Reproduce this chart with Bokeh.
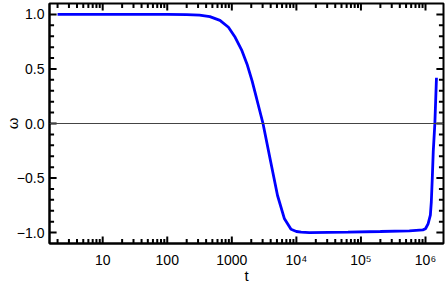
import math
from bokeh.plotting import figure
from bokeh.models import Span, FixedTicker, Range1d
from bokeh.embed import file_html
from bokeh.resources import INLINE

# data
t_vals = [2, 10, 100, 200, 316, 457, 655, 887, 1127, 1435, 1722, 2061, 2410,
          3041, 4000, 5105, 6501, 8260, 10000, 11860, 15850, 63100, 200000,
          562000, 912000, 1000000, 1096000, 1189000, 1230000, 1274000,
          1318000, 1396000, 1479000]
w_vals = [1.0, 1.0, 1.0, 0.998, 0.993, 0.98, 0.945, 0.882, 0.79, 0.667, 0.544,
          0.39, 0.234, 0.0, -0.35, -0.66, -0.87, -0.97, -0.99, -0.995, -1.0,
          -0.995, -0.99, -0.985, -0.975, -0.965, -0.92, -0.84, -0.72, -0.5,
          -0.26, 0.0, 0.42]
x_major = [10, 100, 1000, 10000, 100000, 1000000]
x_tick_labels = ["10", "100", "1000", "10\u2074", "10\u2075", "10\u2076"]
y_ticks = [-1.0, -0.5, 0.0, 0.5, 1.0]
y_tick_labels = ["\u22121.0", "\u22120.5", "0.0", "0.5", "1.0"]
x_label = "t"
y_label = "\u03c9"

x_lo, x_hi = 1.5, 1.9e6
y_lo, y_hi = -1.1, 1.1

FONT = "Liberation Sans"

W, H = 445, 286
BL, BR, BT = 47, 2, 3

p = figure(width=W, height=H, x_axis_type="log",
           x_range=Range1d(x_lo, x_hi), y_range=Range1d(y_lo, y_hi),
           output_backend="svg", toolbar_location=None,
           min_border_left=BL, min_border_right=BR, min_border_top=BT,
           min_border_bottom=43)
p.grid.visible = False
p.outline_line_color = "black"
p.outline_line_width = 2
p.background_fill_color = "white"
p.border_fill_color = "white"

p.add_layout(Span(location=0, dimension="width", line_color="#444444",
                  line_width=1))
p.line(t_vals, w_vals, line_color="#0000ff", line_width=2.8)

# inward frame ticks (major and minor) on all four sides
frame_w = 388
frame_h = 238
dec_per_px = math.log10(x_hi / x_lo) / frame_w
y_per_px = (y_hi - y_lo) / frame_h
x_minor = [k * 10 ** e for e in range(0, 7) for k in range(2, 10)]
x_minor = [v for v in x_minor if x_lo < v < x_hi]
y_minor = [round(i / 10, 1) for i in range(-10, 11)]
y_minor = [v for v in y_minor if v not in y_ticks]

for xs, ln in ((x_major, 7), (x_minor, 4.5)):
    d = ln * y_per_px
    n = len(xs)
    p.segment(x0=xs, y0=[y_lo + d] * n, x1=xs, y1=[y_lo] * n,
              line_color="black", line_width=2)
    p.segment(x0=xs, y0=[y_hi - d] * n, x1=xs, y1=[y_hi] * n,
              line_color="black", line_width=2)
for ys, ln in ((y_ticks, 7), (y_minor, 4.5)):
    f = 10 ** (ln * dec_per_px)
    n = len(ys)
    p.segment(x0=[x_lo * f] * n, y0=ys, x1=[x_lo] * n, y1=ys,
              line_color="black", line_width=2)
    p.segment(x0=[x_hi / f] * n, y0=ys, x1=[x_hi] * n, y1=ys,
              line_color="black", line_width=2)

def style(ax):
    ax.axis_line_color = "black"
    ax.axis_line_width = 2
    ax.major_tick_in = 0
    ax.major_tick_out = 0
    ax.minor_tick_in = 0
    ax.minor_tick_out = 0
    ax.major_label_text_font = FONT
    ax.major_label_text_font_size = "14px"
    ax.major_label_text_color = "black"
    ax.axis_label_text_font = FONT
    ax.axis_label_text_font_size = "15px"
    ax.axis_label_text_font_style = "normal"
    ax.axis_label_text_color = "black"

xa = p.xaxis[0]
xa.ticker = FixedTicker(ticks=x_major)
xa.major_label_overrides = {k: v for k, v in zip(x_major, x_tick_labels)}
xa.axis_label = x_label
style(xa)
xa.major_label_standoff = 8
xa.axis_label_standoff = -4

ya = p.yaxis[0]
ya.ticker = FixedTicker(ticks=y_ticks)
ya.major_label_overrides = {k: v for k, v in zip(y_ticks, y_tick_labels)}
ya.axis_label = y_label
style(ya)
ya.major_label_standoff = 5
ya.axis_label_standoff = -7

open("out.html", "w").write(file_html(p, INLINE))
